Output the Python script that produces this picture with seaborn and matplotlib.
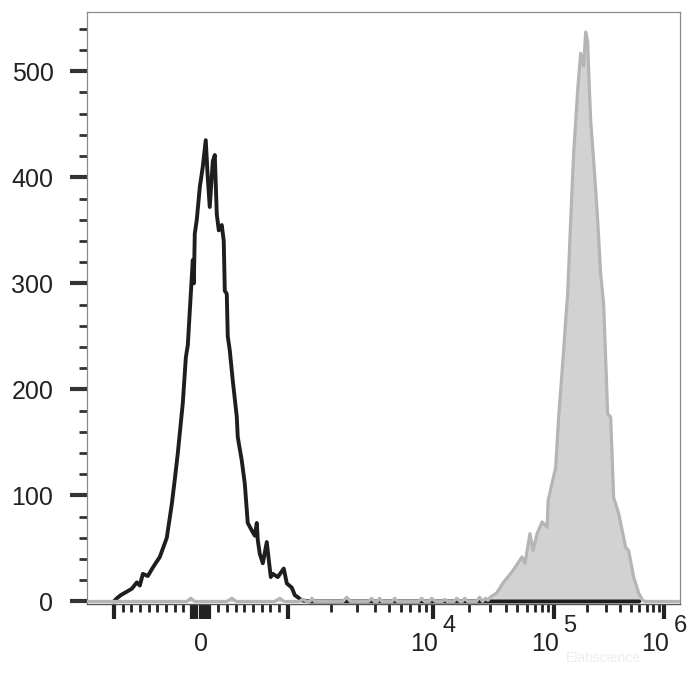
import numpy as np
import pandas as pd
import seaborn as sns
import matplotlib
matplotlib.use("Agg")
import matplotlib.pyplot as plt
from matplotlib.ticker import FixedLocator, NullFormatter, MultipleLocator

# isotype control histogram (black outline) : fluorescence value -> events
ctrl_x = [-1000, -965, -919, -793, -735, -701, -666, -609, -551, -471, -391, -333, -299, -264,
          -207, -172, -149, -115, -92, -80, -69, -46, -11, 23, 57, 80, 103, 138, 161, 184, 207,
          241, 264, 276, 299, 310, 333, 368, 414, 425, 471, 506, 540, 586, 621, 644, 655, 678,
          713, 759, 782, 805, 828, 885, 954, 989, 1066, 1118, 1172, 1250, 1420, 600000]
ctrl_count = [0, 3, 6, 12, 18, 15, 26, 24, 32, 42, 60, 92, 115, 140,
              187, 230, 242, 290, 322, 300, 347, 360, 391, 410, 435, 400, 372, 415, 421, 365, 350,
              355, 340, 293, 290, 250, 237, 208, 174, 155, 133, 111, 74, 67, 62, 74, 58, 45,
              36, 56, 39, 23, 26, 23, 31, 17, 13, 6, 4, 1, 0, 0]

# stained sample histogram (grey filled)
stain_x = [-1536, -160, -115, -70, 300, 356, 410, 850, 908, 960, 1200, 1269, 1350, 1420, 1465,
           1530, 2400, 2553, 2700, 3600, 3795, 3950, 4150, 4307, 4450, 5250, 5470, 5700, 8000,
           8400, 8800, 9500, 9840, 10500, 12000, 12570, 13200, 15000, 15800, 16800, 17600, 18400,
           19500, 23000, 24400, 25800, 27400, 28600,
           29900, 33800, 37900, 46000, 54700, 57900, 63700, 67500, 72900, 80200, 88300, 90000,
           98000, 104200, 111000, 123300, 128500, 134000, 142900, 152000, 165300, 175900, 187400,
           195400, 203800, 208000, 216900, 231000, 251200, 267400, 285000, 309800, 329700, 351000,
           389800, 451600, 480800, 533700, 592500, 644000, 685000, 1400000]
stain_count = [0, 0, 3, 0, 0, 3, 0, 0, 3, 0, 0, 2, 0, 0, 3,
               0, 0, 4, 0, 0, 3, 0, 0, 3, 0, 0, 3, 0, 0,
               3, 0, 0, 3, 0, 0, 2, 0, 0, 3, 0, 0, 3,
               0, 0, 4, 0, 3, 1,
               4, 8, 17, 29, 42, 36, 64, 48, 64, 75, 70, 95,
               114, 126, 174, 237, 265, 290, 360, 423, 482, 517, 505,
               537, 528, 501, 454, 416, 360, 309, 280, 177, 174, 98,
               83, 51, 48, 23, 8, 1, 0, 0]

y_major = [0, 100, 200, 300, 400, 500]
x_major = [-1000, -100, -50, 0, 50, 100, 1000, 1e4, 1e5, 1e6]
x_minor = ([-900, -800, -700, -600, -500, -400, -300, -200]
           + [200, 300, 400, 500, 600, 700, 800, 900]
           + [2e3, 3e3, 4e3, 5e3, 6e3, 7e3, 8e3, 9e3]
           + [2e4, 3e4, 4e4, 5e4, 6e4, 7e4, 8e4, 9e4]
           + [2e5, 3e5, 4e5, 5e5, 6e5, 7e5, 8e5, 9e5])
x_lab_vals = [0, 1e4, 1e5, 1e6]
x_lab_base = ["0", "10", "10", "10"]
x_lab_exp = ["", "4", "5", "6"]

# biexponential-like display: linear around zero, log decades above 1000
dec_pos = [87, 232, 353, 463, 573]
dec_log = [3, 4, 5, 6, 7]


def fwd(x):
    x = np.asarray(x, dtype=float)
    a = np.abs(x)
    lin = a * 0.087
    lg = np.interp(np.log10(np.maximum(a, 1e3)), dec_log, dec_pos)
    return np.sign(x) * np.where(a <= 1000, lin, lg)


def inv(p):
    p = np.asarray(p, dtype=float)
    a = np.abs(p)
    lin = a / 0.087
    lg = 10 ** np.interp(np.maximum(a, 87), dec_pos, dec_log)
    return np.sign(p) * np.where(a <= 87, lin, lg)


ctrl = pd.DataFrame({"value": ctrl_x, "count": ctrl_count})
stain = pd.DataFrame({"value": stain_x, "count": stain_count})

sns.set_style("ticks")
plt.rcParams["font.family"] = ["Liberation Sans", "DejaVu Sans"]

fig = plt.figure(figsize=(7, 7), dpi=100)
ax = fig.add_axes([0.124, 0.137, 0.847, 0.846])
ax.set_xscale("function", functions=(fwd, inv))

ax.fill_between(stain["value"], stain["count"], color="#d2d2d2", lw=0, zorder=1)
sns.lineplot(data=ctrl, x="value", y="count", color="#1e1e1e", lw=2.8,
             estimator=None, sort=False, ax=ax, zorder=2)
sns.lineplot(data=stain, x="value", y="count", color="#b5b5b5", lw=2.3,
             estimator=None, sort=False, ax=ax, zorder=3)

ax.set_xlim(-1536, 1.4e6)
ax.set_ylim(-2.5, 556)
ax.set_xlabel("")
ax.set_ylabel("")

for s in ["left", "top", "right"]:
    ax.spines[s].set_color("#8a8a8a")
    ax.spines[s].set_linewidth(0.9)
ax.spines["bottom"].set_color("#555555")
ax.spines["bottom"].set_linewidth(1.0)

ax.yaxis.set_major_locator(FixedLocator(y_major))
ax.yaxis.set_minor_locator(MultipleLocator(20))
ax.tick_params(axis="y", which="major", length=12, width=3, color="#333333",
               labelsize=18, labelcolor="#222222", pad=12)
ax.tick_params(axis="y", which="minor", length=6, width=2, color="#333333")

ax.xaxis.set_major_locator(FixedLocator(x_major))
ax.xaxis.set_minor_locator(FixedLocator(x_minor))
ax.xaxis.set_major_formatter(NullFormatter())
ax.xaxis.set_minor_formatter(NullFormatter())
ax.tick_params(axis="x", which="major", length=11, width=3, color="#222222")
ax.tick_params(axis="x", which="minor", length=6, width=2, color="#222222")

for val, base, ex in zip(x_lab_vals, x_lab_base, x_lab_exp):
    shift = -6 if ex else 0
    ax.annotate(base, xy=(val, 0), xycoords=("data", "axes fraction"),
                xytext=(shift, -20), textcoords="offset points",
                ha="center", va="top", fontsize=18, color="#222222")
    if ex:
        ax.annotate(ex, xy=(val, 0), xycoords=("data", "axes fraction"),
                    xytext=(7, -8), textcoords="offset points",
                    ha="left", va="top", fontsize=17, color="#222222")

# faint watermark
fig.text(0.862, 0.055, "Elabscience", fontsize=10, color="#eeeeee", ha="center")

fig.savefig("out.png", dpi=100)
